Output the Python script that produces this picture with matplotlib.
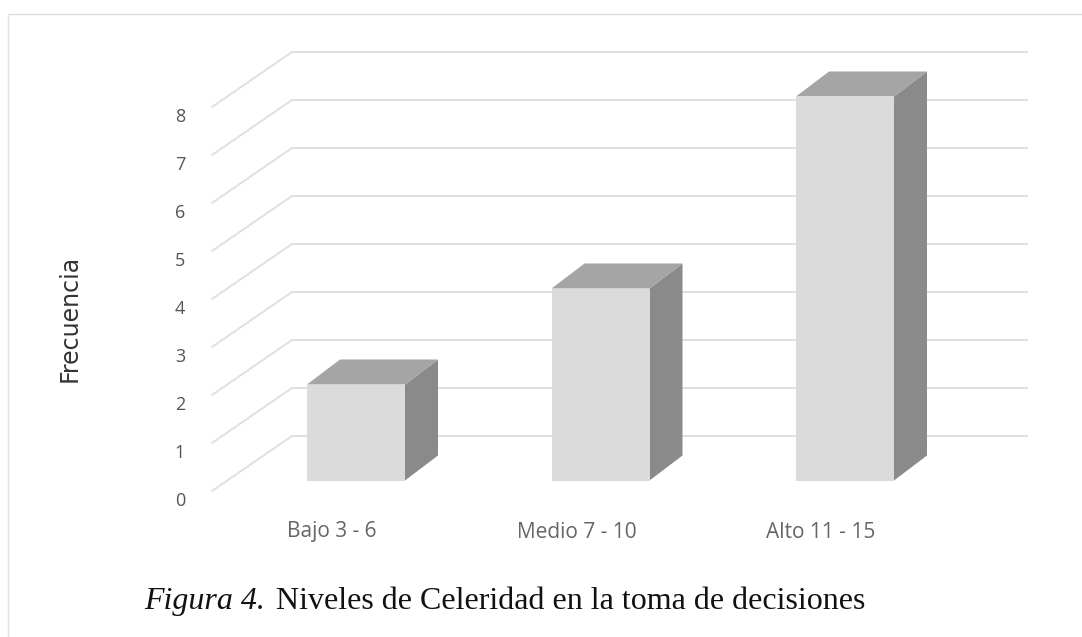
import matplotlib
matplotlib.use("Agg")
import matplotlib.pyplot as plt
from matplotlib.patches import Polygon

categorias = ["Bajo 3 - 6", "Medio 7 - 10", "Alto 11 - 15"]
frecuencia = [2, 4, 8]
ticks_y = [0, 1, 2, 3, 4, 5, 6, 7, 8]

W, H = 1082, 637
# escala: pixeles por categoria y por unidad de frecuencia
px_cat = 244.5
px_uni = 48.0
x0_px = 356.0
y0_px = 480.5

fig = plt.figure(figsize=(W / 100, H / 100), dpi=100)
ax = fig.add_axes([0, 0, 1, 1])
ax.set_xlim((0 - x0_px) / px_cat, (W - x0_px) / px_cat)
ax.set_ylim((y0_px - H) / px_uni, y0_px / px_uni)
ax.axis("off")

def dx(px):
    return px / px_cat

def dy(px):
    return px / px_uni

def px_x(px):
    return (px - x0_px) / px_cat

def px_y(py):
    return (y0_px - py) / px_uni

# marco de la captura
ax.plot([px_x(7.5), px_x(7.5)], [px_y(H), px_y(14.5)], color="#e0e0e0", lw=1.0, solid_capstyle="butt")
ax.plot([px_x(7.5), px_x(W)], [px_y(14.5), px_y(14.5)], color="#e0e0e0", lw=1.0, solid_capstyle="butt")

# rejilla: diagonal lateral y linea de fondo
col_grid = "#e0e0e0"
piso_frente = px_y(491)
piso_fondo = px_y(436)
for v in ticks_y:
    ax.plot([px_x(212), px_x(292), px_x(1027)],
            [piso_frente + v, piso_fondo + v, piso_fondo + v],
            color=col_grid, lw=1.4, solid_joinstyle="miter", zorder=1)
    ax.text(px_x(180), px_y(501) + v, str(v), ha="center", va="center",
            fontsize=13, color="#555555", family="Open Sans")

# barras 3D
ancho = dx(98)
prof_x = dx(33)
prof_y = dy(25)
for i, (cat, f) in enumerate(zip(categorias, frecuencia)):
    izq = i - ancho / 2
    der = i + ancho / 2
    ax.add_patch(Polygon([(der, f), (der + prof_x, f + prof_y), (der + prof_x, prof_y), (der, 0)],
                         closed=True, fc="#8a8a8a", ec="none", zorder=3))
    ax.add_patch(Polygon([(izq, f), (izq + prof_x, f + prof_y), (der + prof_x, f + prof_y), (der, f)],
                         closed=True, fc="#a5a5a5", ec="none", zorder=3))
    ax.add_patch(Polygon([(izq, 0), (izq, f), (der, f), (der, 0)],
                         closed=True, fc="#dbdbdb", ec="none", zorder=4))
    ax.text(i - dx(24), px_y(532), cat, ha="center", va="center",
            fontsize=15, color="#666666", family="Open Sans")

ax.text(px_x(70), px_y(318), "Frecuencia", rotation=90, ha="center", va="center",
        fontsize=17, color="#333333", family="DejaVu Sans")

# pie de figura, parte en cursiva y parte normal
x_pie = px_x(144)
y_pie = px_y(609)
t1 = ax.text(x_pie, y_pie, "Figura 4.", style="italic", va="baseline", ha="left",
             fontsize=23, color="#111111", family="Liberation Serif")
fig.canvas.draw()
ancho_t1 = t1.get_window_extent().width
ax.text(px_x(144 + ancho_t1 + 11), y_pie, "Niveles de Celeridad en la toma de decisiones",
        va="baseline", ha="left", fontsize=23, color="#111111", family="Liberation Serif")

fig.savefig("out.png", dpi=100)
